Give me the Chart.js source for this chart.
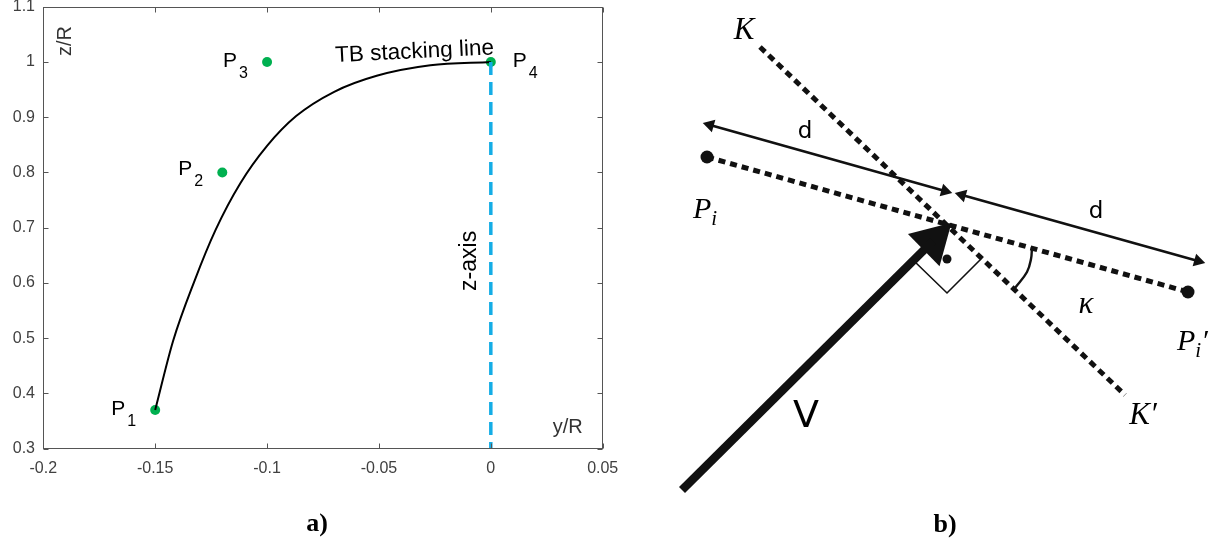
<!DOCTYPE html>
<html>
<head>
<meta charset="utf-8">
<script src="https://cdn.jsdelivr.net/npm/chart.js@4.4.1/dist/chart.umd.min.js"></script>
<style>
  html, body { margin: 0; padding: 0; background: #fff; }
  #wrap { position: relative; width: 1215px; height: 543px; }
  #profile { position: absolute; left: 0; top: 0; }
  #sketch { position: absolute; left: 620px; top: 0; }
</style>
</head>
<body>
<div id="wrap">
  <canvas id="profile" width="620" height="543"></canvas>
  <canvas id="sketch" width="595" height="543"></canvas>
</div>
<script>
// ---- a) stacking line in the y/R - z/R plane ----
const lineY = [-0.150, -0.142, -0.1325, -0.123, -0.112, -0.100, -0.087, -0.070, -0.051, -0.027, 0];
const lineZ = [0.370, 0.495, 0.603, 0.696, 0.780, 0.848, 0.902, 0.946, 0.975, 0.994, 1.0];

// control points P1..P4
const ctrlNames = ["1", "2", "3", "4"];
const ctrlY = [-0.15, -0.12, -0.1, 0];
const ctrlZ = [0.37, 0.8, 1.0, 1.0];

// z-axis (dashed)
const axisY = [0, 0];
const axisZ = [1.0, 0.3];

const yTicks = [-0.2, -0.15, -0.1, -0.05, 0, 0.05];
const zTicks = [0.3, 0.4, 0.5, 0.6, 0.7, 0.8, 0.9, 1, 1.1];

// ---- b) sketch geometry, local frame (origin at the crossing point) ----
const kLine = [[-185, 177], [180, -171]];
const pLine = [[-238, 67], [243, -68]];
const pDots = [[-238, 67], [243, -68]];
const vShaft = [[-263, -266], [-12, -17]];
const vHead = [[-12, -17]];
const dLeft = [[-235, 99], [0, 33]];
const dRight = [[17, 29], [253, -37]];
const dHeads = [[-235, 99], [0, 33], [17, 29], [253, -37]];
const dHeadTurn = [285.7, 105.7, 285.7, 105.7];
const rightAngle = [[-32, -36], [2, -69], [35, -36]];
const centerDot = [[2, -35]];
const kappaArc = [[87, -23], [86, -35], [82, -48], [70, -64]];

Chart.defaults.font.family = "'Liberation Sans', Arial, sans-serif";
Chart.defaults.animation = false;

const pts = (xs, ys) => xs.map((v, i) => ({ x: v, y: ys[i] }));
const xy = (arr) => arr.map(p => ({ x: p[0], y: p[1] }));

function drawParts(ctx, x, y, parts) {
  let cx = x;
  for (const p of parts) {
    ctx.font = p.font;
    ctx.fillText(p.s, cx, y + (p.dy || 0));
    cx += ctx.measureText(p.s).width + (p.gap || 0);
  }
}

const labelFont = "21px 'Liberation Sans'";
const subFont = "16px 'Liberation Sans'";
const ctrlLabelDx = [-44, -44, -44, 22];
const ctrlLabelDy = [5, 3, 5, 5];

const profileDecor = {
  id: "profileDecor",
  afterDraw(chart) {
    const { ctx, chartArea: a, scales: { x, y } } = chart;
    ctx.save();
    // axes box with inward ticks on all sides
    ctx.strokeStyle = "#555";
    ctx.lineWidth = 1;
    const L = Math.round(a.left) + 0.5, R = Math.round(a.right) - 0.5;
    const T = Math.round(a.top) + 0.5, B = Math.round(a.bottom) - 0.5;
    ctx.strokeRect(L, T, R - L, B - T);
    ctx.beginPath();
    for (const v of zTicks) {
      const py = Math.round(y.getPixelForValue(v)) + 0.5;
      ctx.moveTo(L, py); ctx.lineTo(L + 5, py);
      ctx.moveTo(R, py); ctx.lineTo(R - 5, py);
    }
    for (const v of yTicks) {
      const px = Math.round(x.getPixelForValue(v)) + 0.5;
      ctx.moveTo(px, B); ctx.lineTo(px, B - 5);
      ctx.moveTo(px, T); ctx.lineTo(px, T + 5);
    }
    ctx.stroke();

    // point labels P1..P4
    ctx.fillStyle = "#000";
    ctx.textBaseline = "alphabetic";
    ctx.textAlign = "left";
    ctrlNames.forEach((n, i) => {
      const px = x.getPixelForValue(ctrlY[i]) + ctrlLabelDx[i];
      const py = y.getPixelForValue(ctrlZ[i]) + ctrlLabelDy[i];
      drawParts(ctx, px, py, [
        { s: "P", font: labelFont, gap: 2 },
        { s: n, font: subFont, dy: 11 }
      ]);
    });

    // curve and axis annotations
    ctx.textAlign = "center";
    ctx.textBaseline = "middle";
    ctx.font = "22.5px 'Liberation Sans'";
    ctx.save();
    ctx.translate(x.getPixelForValue(-0.0341), y.getPixelForValue(1.018));
    ctx.rotate(-2.8 * Math.PI / 180);
    ctx.fillText("TB stacking line", 0, 0);
    ctx.restore();

    ctx.save();
    ctx.font = "23px 'Liberation Sans'";
    ctx.translate(x.getPixelForValue(-0.0093), y.getPixelForValue(0.64));
    ctx.rotate(-Math.PI / 2);
    ctx.fillText("z-axis", 0, 0);
    ctx.restore();

    ctx.fillStyle = "#333";
    ctx.font = "20px 'Liberation Sans'";
    ctx.save();
    ctx.translate(x.getPixelForValue(-0.1903), y.getPixelForValue(1.038));
    ctx.rotate(-Math.PI / 2);
    ctx.fillText("z/R", 0, 0);
    ctx.restore();
    ctx.fillText("y/R", x.getPixelForValue(0.0344), y.getPixelForValue(0.339));

    // panel caption
    ctx.fillStyle = "#000";
    ctx.font = "bold 26px 'Liberation Serif'";
    ctx.fillText("a)", 317, 524);
    ctx.restore();
  }
};

new Chart(document.getElementById("profile"), {
  type: "scatter",
  data: {
    datasets: [
      {
        data: pts(axisY, axisZ),
        showLine: true,
        borderColor: "#14ade6",
        borderWidth: 3.5,
        borderDash: [13, 7],
        pointRadius: 0
      },
      {
        data: pts(lineY, lineZ),
        showLine: true,
        borderColor: "#000",
        borderWidth: 2,
        cubicInterpolationMode: "monotone",
        pointRadius: 0
      },
      {
        data: pts(ctrlY, ctrlZ),
        backgroundColor: "#00b050",
        borderColor: "#00b050",
        pointRadius: 5,
        borderWidth: 0
      }
    ]
  },
  options: {
    responsive: false,
    events: [],
    layout: { autoPadding: false, padding: { left: 0, top: 6.7, right: 17.3, bottom: 54.3 } },
    plugins: { legend: { display: false }, tooltip: { enabled: false } },
    scales: {
      x: {
        type: "linear",
        min: -0.2,
        max: 0.05,
        grid: { display: false, drawTicks: false },
        border: { display: false },
        afterBuildTicks: (s) => { s.ticks = yTicks.map(v => ({ value: v })); },
        afterFit: (s) => { s.height = 40; s.paddingLeft = 0; s.paddingRight = 0; },
        ticks: {
          callback: (v) => String(v),
          color: "#404040",
          font: { size: 16 },
          padding: 10,
          maxRotation: 0,
          autoSkip: false
        }
      },
      y: {
        type: "linear",
        min: 0.3,
        max: 1.1,
        grid: { display: false, drawTicks: false },
        border: { display: false },
        afterBuildTicks: (s) => { s.ticks = zTicks.map(v => ({ value: v })); },
        afterFit: (s) => { s.width = 43.3; s.paddingTop = 0; s.paddingBottom = 0; },
        ticks: {
          callback: (v) => String(v),
          color: "#404040",
          font: { size: 16 },
          padding: 8.3,
          autoSkip: false
        }
      }
    }
  },
  plugins: [profileDecor]
});

// ---- b) sketch ----
const serifIt = (px) => "italic " + px + "px 'Liberation Serif'";
const sketchText = [
  { x: -201, y: 193, parts: [{ s: "K", font: serifIt(31) }], center: true },
  { x: -140, y: 92, parts: [{ s: "d", font: "23px 'DejaVu Sans'" }], center: true },
  { x: 151, y: 12, parts: [{ s: "d", font: "23px 'DejaVu Sans'" }], center: true },
  { x: -139, y: -193, parts: [{ s: "V", font: "38px 'DejaVu Sans'" }], center: true },
  { x: 141, y: -81, parts: [{ s: "κ", font: serifIt(31) }], center: true },
  { x: 198, y: -192, parts: [{ s: "K′", font: serifIt(31) }], center: true },
  { x: -252, y: 6, parts: [{ s: "P", font: serifIt(30) }, { s: "i", font: serifIt(21), dy: 7 }] },
  { x: 232, y: -126, parts: [{ s: "P", font: serifIt(30) }, { s: "i", font: serifIt(21), dy: 7 }, { s: "′", font: serifIt(30) }] },
  { x: 0, y: -301, parts: [{ s: "b)", font: "bold 26px 'Liberation Serif'" }], center: true }
];

const sketchDecor = {
  id: "sketchDecor",
  afterDraw(chart) {
    const { ctx, scales: { x, y } } = chart;
    ctx.save();
    ctx.fillStyle = "#000";
    for (const t of sketchText) {
      const px = x.getPixelForValue(t.x);
      const py = y.getPixelForValue(t.y);
      if (t.center) {
        ctx.textAlign = "center";
        ctx.textBaseline = "middle";
        ctx.font = t.parts[0].font;
        ctx.fillText(t.parts[0].s, px, py);
      } else {
        ctx.textAlign = "left";
        ctx.textBaseline = "alphabetic";
        drawParts(ctx, px, py, t.parts);
      }
    }
    ctx.restore();
  }
};

const dotted = { borderColor: "#111", borderWidth: 5, borderDash: [7, 5], borderCapStyle: "butt", pointRadius: 0, showLine: true };
const solid = (w) => ({ borderColor: "#111", borderWidth: w, borderCapStyle: "butt", pointRadius: 0, showLine: true });

new Chart(document.getElementById("sketch"), {
  type: "scatter",
  data: {
    datasets: [
      { data: xy(kLine), ...dotted },
      { data: xy(pLine), ...dotted },
      { data: xy(rightAngle), ...solid(1.6) },
      { data: xy(kappaArc), ...solid(2.4), tension: 0.4 },
      { data: xy(dLeft), ...solid(2.6) },
      { data: xy(dRight), ...solid(2.6) },
      {
        data: xy(dHeads),
        pointStyle: "triangle",
        pointRadius: 7.5,
        pointRotation: dHeadTurn,
        backgroundColor: "#111",
        borderColor: "#111",
        borderWidth: 0
      },
      { data: xy(vShaft), ...solid(8.5) },
      {
        data: xy(vHead),
        pointStyle: "triangle",
        pointRadius: 26,
        pointRotation: 45.4,
        backgroundColor: "#111",
        borderColor: "#111",
        borderWidth: 0
      },
      { data: xy(pDots), pointRadius: 6.5, backgroundColor: "#111", borderWidth: 0 },
      { data: xy(centerDot), pointRadius: 4.5, backgroundColor: "#111", borderWidth: 0 }
    ]
  },
  options: {
    responsive: false,
    events: [],
    layout: { autoPadding: false, padding: 0 },
    plugins: { legend: { display: false }, tooltip: { enabled: false } },
    scales: {
      x: { type: "linear", min: -325, max: 270, display: false },
      y: { type: "linear", min: -319, max: 224, display: false }
    }
  },
  plugins: [sketchDecor]
});
</script>
</body>
</html>
